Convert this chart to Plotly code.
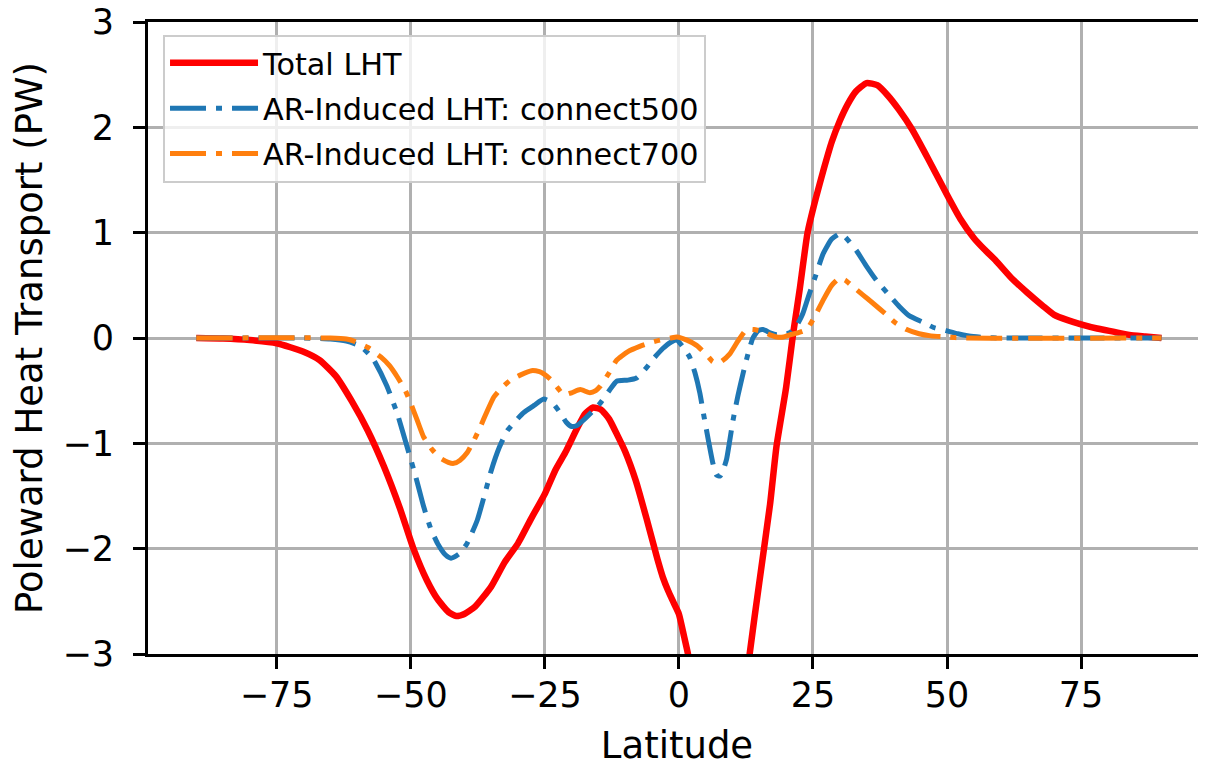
import plotly.graph_objects as go

# Total LHT
lat_total = [-90, -85, -80, -75, -70, -67, -64, -61, -58, -55, -52, -49.5, -47, -45, -43, -41.5,
             -40, -38, -35, -32.5, -30, -27.5, -25, -23, -21, -19, -17.5, -16, -14.5, -13,
             -11.5, -10, -8, -6, -4, -3, -2, -1, 0, 1, 1.7, 3, 4, 6, 8, 10, 12, 13.2, 15, 17,
             18.2, 20, 21.3, 22.5, 24, 25.5, 27, 28.5, 30, 31.5, 33, 35, 37, 39, 41, 43.5,
             46.5, 50, 52.5, 55, 57, 59, 62, 65, 68, 70, 72.5, 75, 78, 81, 84, 87, 90]
val_total = [0.0, -0.005, -0.02, -0.05, -0.13, -0.21, -0.36, -0.60, -0.88, -1.22, -1.62, -2.00,
             -2.30, -2.48, -2.60, -2.64, -2.62, -2.55, -2.36, -2.13, -1.95, -1.71, -1.48, -1.25,
             -1.07, -0.86, -0.72, -0.66, -0.68, -0.77, -0.92, -1.08, -1.36, -1.72, -2.10, -2.27,
             -2.40, -2.51, -2.62, -2.84, -3.0, -3.4, -3.7, -4.3, -4.5, -4.2, -3.6, -3.0, -2.32,
             -1.58, -1.03, -0.47, 0.04, 0.45, 1.0, 1.32, 1.60, 1.86, 2.06, 2.22, 2.34, 2.42, 2.40,
             2.30, 2.17, 1.98, 1.70, 1.36, 1.13, 0.95, 0.84, 0.74, 0.57, 0.43, 0.30, 0.22, 0.17,
             0.13, 0.09, 0.06, 0.03, 0.015, 0.0]

# AR-Induced LHT: connect500
lat_c500 = [-90, -70, -65, -62, -59.3, -57, -54.5, -52.5, -50.7, -49, -47.6, -46.2, -45, -43.5,
            -42.5, -41, -39.5, -37.6, -36.3, -35, -33.5, -32, -30.5, -29, -27, -25.2, -23.5, -22,
            -21, -20, -19, -17.8, -16, -14.7, -13, -11.6, -9.5, -7.9, -6, -4.8, -3, -1.5, -0.4,
            1, 2, 3, 3.9, 4.7, 5.5, 6.3, 7, 7.7, 8.3, 8.9, 9.5, 10.1, 11, 12, 13, 13.8, 14.8,
            15.7, 17, 18.2, 19.5, 20.7, 22, 23.1, 24.2, 25.3, 26.9, 28.5, 30, 31, 33.1, 35, 36.8,
            39, 41.1, 43, 45.5, 47.5, 49.8, 52, 54.1, 57, 60, 90]
val_c500 = [0, 0, -0.01, -0.03, -0.08, -0.2, -0.45, -0.72, -1.03, -1.33, -1.60, -1.82, -1.95,
            -2.06, -2.09, -2.05, -1.95, -1.73, -1.50, -1.26, -1.04, -0.88, -0.79, -0.71, -0.64,
            -0.58, -0.62, -0.72, -0.80, -0.84, -0.83, -0.78, -0.69, -0.62, -0.50, -0.41, -0.40,
            -0.38, -0.28, -0.20, -0.10, -0.04, -0.02, -0.10, -0.18, -0.33, -0.52, -0.75, -0.97,
            -1.18, -1.30, -1.31, -1.25, -1.15, -0.97, -0.78, -0.55, -0.33, -0.13, 0.0, 0.07,
            0.08, 0.05, 0.03, 0.03, 0.05, 0.12, 0.23, 0.40, 0.56, 0.80, 0.94, 0.99, 0.96, 0.83,
            0.68, 0.55, 0.42, 0.30, 0.21, 0.15, 0.10, 0.07, 0.04, 0.02, 0.005, 0, 0]

# AR-Induced LHT: connect700
lat_c700 = [-90, -65, -62, -60.6, -58, -55.6, -54, -52.5, -51, -50, -48.8, -47.6, -46, -44.5,
            -43, -42, -40.8, -39.5, -38.2, -37, -35.8, -34.5, -33, -31.4, -29.5, -27.5, -26,
            -25.2, -24, -22.5, -21.5, -20, -18.4, -16.6, -15.5, -14.7, -13, -11.6, -9.5, -7.3,
            -5, -3.5, -1.5, -0.4, 1.5, 3.3, 5, 6.2, 7, 8, 9.5, 11, 12.6, 14, 15.7, 17, 18.2,
            19.5, 20.7, 22.3, 23.8, 25.3, 26.9, 28.5, 30, 31, 32.4, 34.3, 36.2, 38.5, 40.5,
            42.5, 44.8, 47, 49.8, 53, 90]
val_c700 = [0, 0, -0.01, -0.03, -0.09, -0.18, -0.26, -0.37, -0.50, -0.62, -0.78, -0.94, -1.06,
            -1.14, -1.18, -1.19, -1.16, -1.09, -0.97, -0.84, -0.70, -0.56, -0.47, -0.40, -0.35,
            -0.31, -0.32, -0.34, -0.39, -0.48, -0.54, -0.52, -0.49, -0.52, -0.50, -0.46, -0.33,
            -0.21, -0.13, -0.08, -0.04, -0.02, 0.0, 0.01, -0.02, -0.07, -0.15, -0.22, -0.24,
            -0.22, -0.15, -0.03, 0.08, 0.08, 0.06, 0.03, 0.01, 0.01, 0.03, 0.05, 0.08, 0.20,
            0.36, 0.50, 0.57, 0.55, 0.49, 0.41, 0.33, 0.23, 0.14, 0.08, 0.04, 0.02, 0.01, 0, 0]

x_ticks = [-75, -50, -25, 0, 25, 50, 75]
y_ticks = [-3, -2, -1, 0, 1, 2, 3]

FONT = "DejaVu Sans"
dash = "36px,10px,6px,10px"

fig = go.Figure()
fig.add_trace(go.Scatter(x=lat_total, y=val_total, mode="lines", name="Total LHT",
                         legendgroup="a",
                         line=dict(color="#ff0000", width=6.5, shape="spline", smoothing=0.5)))
fig.add_trace(go.Scatter(x=lat_c500, y=val_c500, mode="lines", name="AR-Induced LHT: connect500",
                         legendgroup="b",
                         line=dict(color="#1f77b4", width=5, dash=dash, shape="spline", smoothing=0.5)))
fig.add_trace(go.Scatter(x=lat_c700, y=val_c700, mode="lines", name="AR-Induced LHT: connect700",
                         legendgroup="c",
                         line=dict(color="#ff7f0e", width=5, dash=dash, shape="spline", smoothing=0.5)))

# the page body has an 8px margin, so the figure is 8px smaller and its margins shifted
fig.update_layout(
    width=1198, height=759,
    margin=dict(l=140, r=0, t=13.5, b=112.5, autoexpand=False),
    paper_bgcolor="white", plot_bgcolor="white",
    font=dict(family=FONT, color="black", size=35),
    showlegend=True,
    legend=dict(x=0.0142, y=0.98, xanchor="left", yanchor="top",
                bgcolor="rgba(255,255,255,0.8)", bordercolor="#cccccc", borderwidth=2,
                font=dict(family=FONT, size=30.3, color="black"), itemwidth=88,
                tracegroupgap=3),
    xaxis=dict(range=[-99, 98.3], tickvals=x_ticks, showgrid=True, gridcolor="#b0b0b0",
               gridwidth=2.5, zeroline=False, showline=True, linecolor="black", linewidth=3,
               mirror=True, ticks="outside", ticklen=12, tickwidth=3, tickcolor="black",
               tickfont=dict(size=35), automargin=False, ticklabelstandoff=-4,
               ticklabeloverflow="allow",
               title=dict(text="Latitude", font=dict(size=37), standoff=26)),
    yaxis=dict(range=[-3, 3], tickvals=y_ticks, showgrid=True, gridcolor="#b0b0b0",
               gridwidth=2.5, zeroline=False, showline=True, linecolor="black", linewidth=3,
               mirror=False, ticks="outside", ticklen=12, tickwidth=3, tickcolor="black",
               tickfont=dict(size=35), automargin=False, ticklabelstandoff=12,
               ticklabeloverflow="allow",
               title=dict(text="Poleward Heat Transport (PW)", font=dict(size=37), standoff=12)),
)

fig.write_html("out.html")
